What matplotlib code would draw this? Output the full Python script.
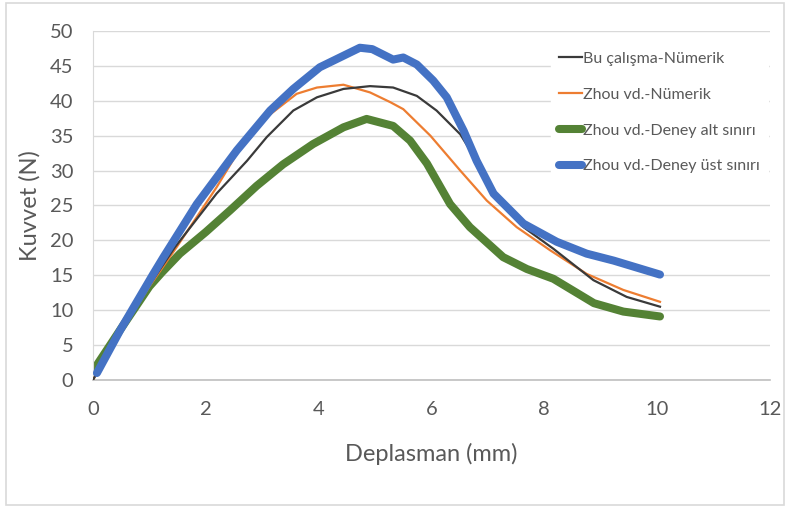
import matplotlib.pyplot as plt

# Bu çalışma - Nümerik
x_bu = [0, 0.48, 1.0, 1.45, 2.19, 2.73, 3.08, 3.55, 3.97, 4.44, 4.91, 5.32, 5.74, 6.09, 6.51, 6.8, 7.22, 7.63, 8.16, 8.87, 9.46, 10.05]
y_bu = [0, 6.9, 13.6, 19.0, 26.7, 31.4, 34.8, 38.6, 40.5, 41.7, 42.1, 41.9, 40.7, 38.6, 35.2, 31.4, 25.7, 21.9, 18.8, 14.3, 11.9, 10.5]

# Zhou vd. - Nümerik
x_zn = [0, 0.48, 1.0, 1.48, 2.19, 2.55, 3.1, 3.61, 3.97, 4.44, 4.91, 5.27, 5.5, 5.98, 6.51, 6.98, 7.51, 8.1, 8.75, 9.4, 10.05]
y_zn = [0, 6.8, 13.4, 19.0, 27.6, 32.4, 37.8, 41.0, 41.9, 42.3, 41.2, 39.8, 38.8, 35.0, 30.0, 25.7, 21.9, 18.6, 15.2, 12.9, 11.2]

# Zhou vd. - Deney alt sınırı
x_alt = [0, 0.5, 1.0, 1.22, 1.54, 2.0, 2.43, 2.9, 3.37, 3.9, 4.44, 4.85, 5.32, 5.62, 5.92, 6.33, 6.68, 7.27, 7.69, 8.16, 8.88, 9.4, 10.05]
y_alt = [1.3, 7.4, 13.4, 15.4, 18.1, 21.2, 24.3, 27.8, 30.9, 33.8, 36.2, 37.4, 36.4, 34.3, 31.0, 25.2, 21.9, 17.6, 15.9, 14.5, 11.0, 9.8, 9.1]

# Zhou vd. - Deney üst sınırı
x_ust = [0.07, 0.48, 1.07, 1.25, 1.84, 2.55, 3.14, 3.55, 4.02, 4.73, 4.95, 5.32, 5.5, 5.74, 6.03, 6.27, 6.57, 6.8, 7.1, 7.63, 8.22, 8.75, 9.23, 10.05]
y_ust = [1.0, 7.1, 15.2, 17.6, 25.2, 32.9, 38.6, 41.7, 44.8, 47.6, 47.4, 45.9, 46.2, 45.2, 42.9, 40.5, 35.7, 31.4, 26.7, 22.4, 19.8, 18.1, 17.1, 15.1]

plt.rcParams['font.family'] = ['Lato', 'DejaVu Sans']
txt = '#595959'

fig = plt.figure(figsize=(7.9, 5.08), dpi=100)
ax = fig.add_axes([0.1177, 0.252, 0.857, 0.687])

ax.plot(x_bu, y_bu, color='#3a3a3a', lw=1.6, label='Bu çalışma-Nümerik', zorder=4)
ax.plot(x_zn, y_zn, color='#ED7D31', lw=1.6, label='Zhou vd.-Nümerik', zorder=3)
ax.plot(x_alt, y_alt, color='#548235', lw=5.8, label='Zhou vd.-Deney alt sınırı',
        solid_capstyle='round', solid_joinstyle='round', zorder=2)
ax.plot(x_ust, y_ust, color='#4472C4', lw=5.8, label='Zhou vd.-Deney üst sınırı',
        solid_capstyle='round', solid_joinstyle='round', zorder=5)

ax.set_xlim(0, 12)
ax.set_ylim(0, 50)
ax.set_xticks(range(0, 13, 2))
ax.set_yticks(range(0, 51, 5))
ax.grid(axis='y', color='#d9d9d9', lw=1)
ax.set_axisbelow(True)
for s in ['top', 'right']:
    ax.spines[s].set_visible(False)
ax.spines['left'].set_color('#d9d9d9')
ax.spines['bottom'].set_color('#bfbfbf')
ax.spines['bottom'].set_linewidth(1.2)
ax.tick_params(length=0, labelsize=14.5, labelcolor=txt)
ax.tick_params(axis='x', pad=15)
ax.tick_params(axis='y', pad=14)
ax.set_xlabel('Deplasman (mm)', fontsize=17, color=txt, labelpad=18)
ax.set_ylabel('Kuvvet (N)', fontsize=17, color=txt, labelpad=7)

leg = ax.legend(loc='upper left', bbox_to_anchor=(0.665, 0.986), frameon=True, fontsize=11.5,
                labelspacing=1.35, handlelength=1.4, handletextpad=0.1, borderpad=0.5)
leg.get_frame().set_edgecolor('white')
leg.get_frame().set_alpha(1)
for t in leg.get_texts():
    t.set_color(txt)

fig.patches.append(plt.Rectangle((0.008, 0.006), 0.984, 0.988, transform=fig.transFigure,
                                 fill=False, edgecolor='#d9d9d9', lw=1.2))

fig.savefig('out.png', dpi=100)
